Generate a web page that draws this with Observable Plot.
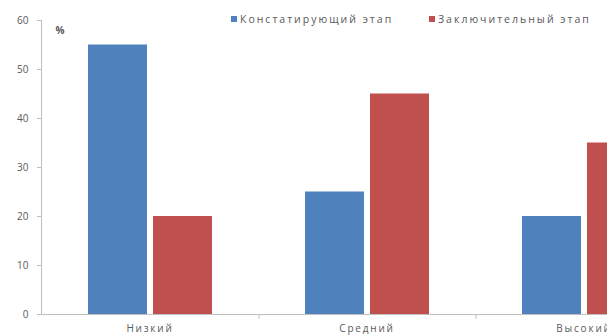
<!DOCTYPE html>
<html><head><meta charset="utf-8">
<script src="https://cdn.jsdelivr.net/npm/d3@7"></script>
<script src="https://cdn.jsdelivr.net/npm/@observablehq/plot@0.6"></script>
<style>
html,body{margin:0;padding:0;background:#fff;overflow:hidden;width:607px;height:335px;}
#wrap{position:relative;width:607px;height:335px;overflow:hidden;}
#wrap svg{position:absolute;left:0;top:0;max-width:none;}
.leg{position:absolute;top:12px;font:10.5px "Open Sans",sans-serif;letter-spacing:2px;color:#595959;white-space:nowrap;display:flex;align-items:center;z-index:2;}
.leg span.sw{display:inline-block;width:6px;height:6px;margin-right:3px;}
#wrap svg [aria-label="y-axis tick label"], #wrap svg [aria-label="fx-axis tick label"]{fill:#595959;}
#wrap svg [aria-label="fx-axis tick label"]{letter-spacing:1.8px;}
</style></head><body><div id="wrap"></div>
<script>
const categories = ["Низкий", "Средний", "Высокий"];
const series = ["Констатирующий этап", "Заключительный этап"];
const constatValues = [55, 25, 20];
const finalValues = [20, 45, 35];
const colors = ["#4F81BD", "#C0504D"];
const yTicks = [0, 10, 20, 30, 40, 50, 60];
const unitLabel = "%";

const data = categories.flatMap((c, i) => [
  {cat: c, series: series[0], value: constatValues[i]},
  {cat: c, series: series[1], value: finalValues[i]}
]);

const chart = Plot.plot({
  width: 692, height: 335,
  marginLeft: 41, marginRight: 0, marginTop: 20, marginBottom: 21,
  style: {fontFamily: "'Open Sans', sans-serif", fontSize: "10px", color: "#bfbfbf", background: "transparent", maxWidth: "none"},
  fx: {domain: categories, padding: 0, axis: "bottom", label: null, tickSize: 0, tickPadding: 10, fontSize: 11.5},
  x: {domain: series, axis: null, paddingInner: 0.1, paddingOuter: 0.7},
  y: {domain: [0, 60], ticks: yTicks, tickSize: 4, tickPadding: 9, line: true, label: null},
  color: {domain: series, range: colors},
  marks: [
    Plot.barY(data, {fx: "cat", x: "series", y: "value", fill: "series"}),
    Plot.ruleY([0], {stroke: "#bfbfbf"}),
    Plot.ruleX(categories.map(c => ({cat: c, series: series[1]})), {fx: "cat", x: "series", y1: 0, y2: -1, dx: 76, stroke: "#bfbfbf"}),
    Plot.text([{cat: categories[0]}], {fx: "cat", text: () => unitLabel, frameAnchor: "top-left", dx: 14, dy: 6, fill: "#595959", fontWeight: "bold", fontSize: 10})
  ]
});
const wrap = document.getElementById("wrap");
wrap.appendChild(chart);
const legPos = [231, 429];
series.forEach((s, i) => {
  const d = document.createElement("div");
  d.className = "leg";
  d.style.left = legPos[i] + "px";
  const sw = document.createElement("span");
  sw.className = "sw";
  sw.style.background = colors[i];
  d.appendChild(sw);
  d.appendChild(document.createTextNode(s));
  wrap.appendChild(d);
});
</script></body></html>
